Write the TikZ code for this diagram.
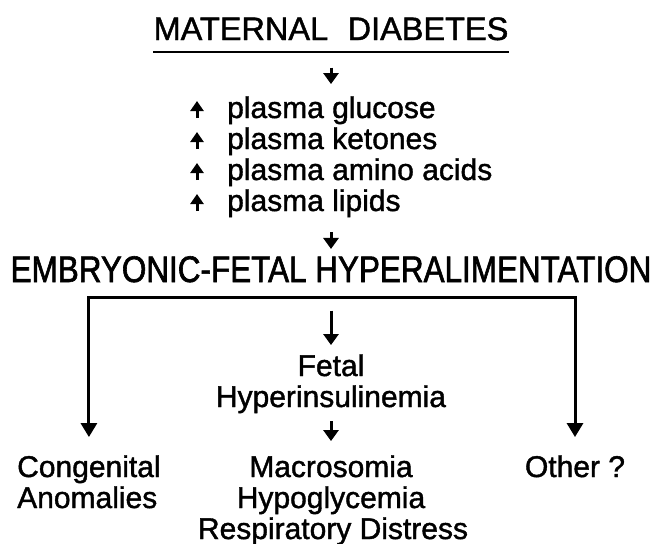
\documentclass[tikz,border=0pt]{standalone}
\usepackage{fontspec}
\setmainfont[FakeBold=1.3]{Liberation Sans}
\newfontfamily\narrowfont[FakeStretch=0.85,FakeBold=1.6]{Liberation Sans}
\usetikzlibrary{arrows.meta}

\tikzset{
  txt/.style={inner sep=0pt, anchor=base, font=\fontsize{30}{36}\selectfont},
  smallarr/.style={line width=3pt, -{Triangle[width=15pt,length=11pt]}},
  uparr/.style={line width=3pt, -{Triangle[width=13pt,length=10pt]}},
  bigarr/.style={line width=3pt, -{Triangle[width=16pt,length=14pt]}},
}

\begin{document}
\begin{tikzpicture}[x=1pt,y=-1pt]
\useasboundingbox (0,0) rectangle (662,544);

% heading
\node[txt, font=\fontsize{32.5}{40}\selectfont] (title) at (331,40) {MATERNAL\hspace{0.6em}DIABETES};
\draw[line width=2.5pt] ([yshift=-12pt]title.base west) -- ([yshift=-12pt]title.base east);

% raised plasma levels
\foreach \name/\what/\yy in {p1/glucose/118, p2/ketones/149, p3/amino acids/180, p4/lipids/211} {
  \node[txt, anchor=base west] (\name) at (227,\yy) {plasma \what};
  \draw[uparr] ([xshift=-30pt]\name.base west) -- ([xshift=-30pt,yshift=17pt]\name.base west);
}
\draw[smallarr, shorten <=27pt, shorten >=12pt] (title.south) -- (title.south |- p1.north);

\node[txt, font=\narrowfont\fontsize{37}{44}\selectfont] (hyper) at (331,282) {EMBRYONIC-FETAL HYPERALIMENTATION};
\draw[smallarr, shorten <=15pt, shorten >=7pt] (p4.south -| hyper.north) -- (hyper.north);

% three branches
\coordinate (split) at ([yshift=-15pt]hyper.south);
\node[txt] (fetal) at (331,376) {Fetal};
\node[txt] (hyperins) at (331,407) {Hyperinsulinemia};
\node[txt, anchor=base west] (cong) at (17,477) {Congenital};
\node[txt, anchor=base west] (anom) at (17,508) {Anomalies};
\node[txt] (macro) at (331,477) {Macrosomia};
\node[txt] (hypogly) at (331,508) {Hypoglycemia};
\node[txt] (resp) at (333,539) {Respiratory Distress};
\node[txt] (other) at (575,477) {Other ?};

\draw[bigarr, shorten >=18pt] (split) -| (cong.north);
\draw[bigarr, shorten >=18pt] (split) -| (other.north);
\draw[smallarr, shorten <=13pt, shorten >=9pt] (split) -- (fetal.north);
\draw[smallarr, shorten <=8pt, shorten >=14pt] (hyperins.south) -- (macro.north);

\end{tikzpicture}
\end{document}
